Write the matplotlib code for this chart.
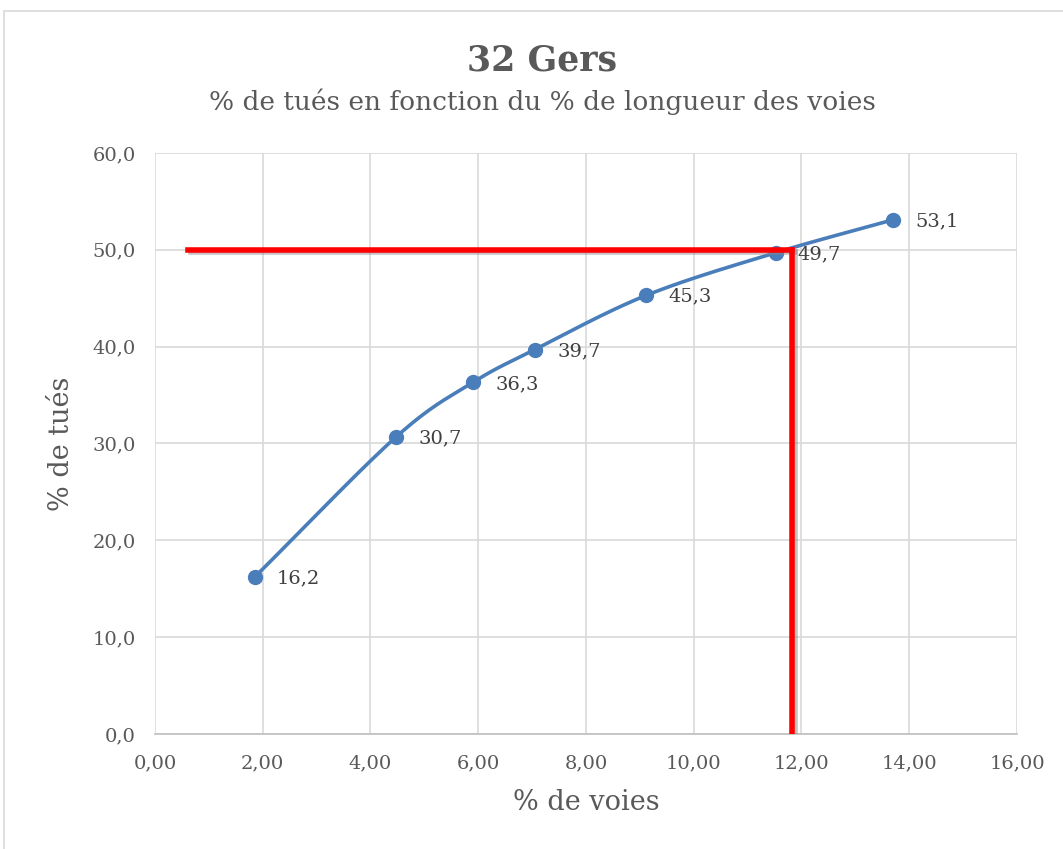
import numpy as np
import matplotlib.pyplot as plt
import matplotlib.patheffects as pe

# data
voies = [1.85, 4.48, 5.90, 7.05, 9.12, 11.52, 13.70]
tues = [16.2, 30.7, 36.3, 39.7, 45.3, 49.7, 53.1]
labels = ['16,2', '30,7', '36,3', '39,7', '45,3', '49,7', '53,1']

# red reading lines (horizontal at 50 %, vertical down to the axis)
h_x = [0.61, 11.82]
h_y = [50, 50]
v_x = [11.82, 11.82]
v_y = [50, 0]

plt.rcParams['font.family'] = ['DejaVu Serif']
grey = '#595959'
blue = '#4a7ebb'


def smooth(x, y, n=40):
    # Catmull-Rom curve through the points, like Excel's smoothed line
    x = np.asarray(x, float)
    y = np.asarray(y, float)
    px = np.concatenate([[2 * x[0] - x[1]], x, [2 * x[-1] - x[-2]]])
    py = np.concatenate([[2 * y[0] - y[1]], y, [2 * y[-1] - y[-2]]])
    ox, oy = [], []
    t = np.linspace(0, 1, n)
    for i in range(1, len(px) - 2):
        for p, o in ((px, ox), (py, oy)):
            p0, p1, p2, p3 = p[i - 1], p[i], p[i + 1], p[i + 2]
            o.extend(0.5 * ((2 * p1) + (-p0 + p2) * t
                            + (2 * p0 - 5 * p1 + 4 * p2 - p3) * t ** 2
                            + (-p0 + 3 * p1 - 3 * p2 + p3) * t ** 3))
    return ox, oy


fig = plt.figure(figsize=(10.63, 8.49), dpi=100)
ax = fig.add_axes([0.1458, 0.1355, 0.8109, 0.6843])

# chart border
fig.patches.append(plt.Rectangle((0.004, -0.01), 1.2, 0.997, transform=fig.transFigure,
                                 fill=False, edgecolor='#d9d9d9', linewidth=1.2))

sx, sy = smooth(voies, tues)
ax.plot(sx, sy, color=blue, linewidth=2.6, zorder=3, solid_capstyle='round')
ax.plot(voies, tues, 'o', color=blue, markersize=10, zorder=4)
for x, y, lab in zip(voies, tues, labels):
    ax.annotate(lab, (x, y), xytext=(16, -1), textcoords='offset points',
                ha='left', va='center', fontsize=14, color='#404040', zorder=6)

shadow = [pe.SimpleLineShadow(offset=(2.5, -1.5), shadow_color='#888888', alpha=0.5), pe.Normal()]
ax.plot(h_x, h_y, color='#ff0000', linewidth=4, zorder=5, path_effects=shadow)
ax.plot(v_x, v_y, color='#ff0000', linewidth=4, zorder=5, path_effects=shadow)

ax.set_xlim(0, 16)
ax.set_ylim(0, 60)
ax.set_xticks(np.arange(0, 17, 2))
ax.set_yticks(np.arange(0, 61, 10))
ax.set_xticklabels([f'{v:.2f}'.replace('.', ',') for v in np.arange(0, 17, 2)])
ax.set_yticklabels([f'{v:.1f}'.replace('.', ',') for v in np.arange(0, 61, 10)])
ax.tick_params(length=0, labelsize=14, labelcolor=grey)
ax.tick_params(axis='y', pad=14)
ax.tick_params(axis='x', pad=15)
ax.grid(True, color='#d9d9d9', linewidth=1.2)
ax.set_axisbelow(True)
for s in ['top', 'right', 'left']:
    ax.spines[s].set_visible(False)
ax.spines['bottom'].set_color('#bfbfbf')
ax.spines['bottom'].set_linewidth(1.2)

ax.set_xlabel('% de voies', fontsize=19.5, color=grey, labelpad=12)
ax.set_ylabel('% de tués', fontsize=19.5, color=grey, labelpad=12)

fig.text(0.51, 0.929, '32 Gers', ha='center', va='center', fontsize=25,
         fontweight='bold', color=grey)
fig.text(0.51, 0.880, '% de tués en fonction du % de longueur des voies',
         ha='center', va='center', fontsize=19, color=grey)

fig.savefig('out.png', dpi=100)
